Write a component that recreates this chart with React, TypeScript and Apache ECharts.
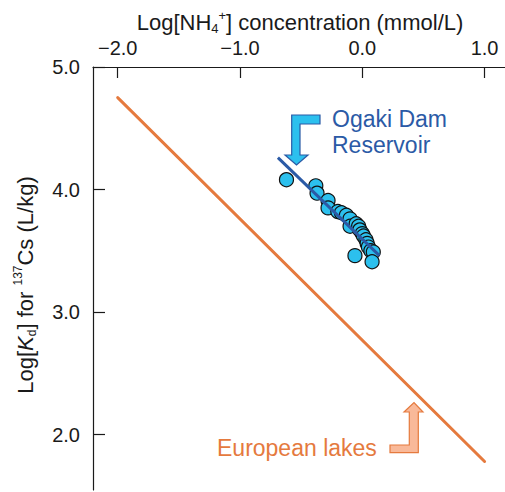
import React, { useEffect, useRef } from "react";
import * as echarts from "echarts";

const xTicks = [-2, -1, 0, 1];
const yTicks = [2, 3, 4, 5];

const ogakiX = [-0.62, -0.38, -0.37, -0.28, -0.28, -0.2, -0.17, -0.13, -0.1, -0.1, -0.05, -0.03, -0.02, 0.0, 0.01, 0.03, 0.04, 0.05, 0.07, 0.09, -0.06, 0.08];
const ogakiY = [4.08, 4.03, 3.97, 3.91, 3.85, 3.82, 3.81, 3.79, 3.76, 3.7, 3.72, 3.7, 3.67, 3.64, 3.62, 3.59, 3.56, 3.53, 3.5, 3.49, 3.46, 3.41];

const ogakiFitX = [-0.69, 0.14];
const ogakiFitY = [4.26, 3.46];
const europeFitX = [-2.0, 1.0];
const europeFitY = [4.75, 1.78];

const FONT = "'Liberation Sans', Arial, Helvetica, sans-serif";
const BLUE = "#2b5aa6";
const CYAN = "#2cc0ee";
const ORANGE = "#e57a3e";
const INK = "#1a1a1a";

const fmt = (v: number) => v.toFixed(1).replace("-", "\u2212");

export default function App() {
  const ref = useRef<HTMLDivElement>(null);
  useEffect(() => {
    if (!ref.current) return;
    const chart = echarts.init(ref.current, undefined, { renderer: "svg" });
    chart.setOption({
      animation: false,
      grid: { left: 93, top: 67, right: 0, bottom: 2, containLabel: false },
      xAxis: {
        type: "value",
        position: "top",
        min: -2.202,
        max: 1.167,
        splitLine: { show: false },
        axisLine: { show: true, onZero: false, lineStyle: { color: INK, width: 1.2 } },
        axisTick: { show: true, inside: true, length: 11, customValues: xTicks, lineStyle: { color: INK, width: 1.2 } },
        axisLabel: { customValues: xTicks, formatter: fmt, fontSize: 20, color: INK, fontFamily: FONT, margin: 9 },
      },
      yAxis: {
        type: "value",
        min: 1.547,
        max: 5,
        splitLine: { show: false },
        axisLine: { show: true, onZero: false, lineStyle: { color: INK, width: 1.2 } },
        axisTick: { show: true, inside: true, length: 12, customValues: yTicks, lineStyle: { color: INK, width: 1.2 } },
        axisLabel: { customValues: yTicks, formatter: fmt, fontSize: 20, color: INK, fontFamily: FONT, margin: 13 },
      },
      series: [
        {
          type: "line",
          data: europeFitX.map((x, i) => [x, europeFitY[i]]),
          symbol: "none",
          lineStyle: { color: ORANGE, width: 3, cap: "round" },
          z: 2,
        },
        {
          type: "scatter",
          data: ogakiX.map((x, i) => [x, ogakiY[i]]),
          symbol: "circle",
          symbolSize: 14,
          itemStyle: { color: CYAN, borderColor: "#111", borderWidth: 1.2, opacity: 1 },
          z: 3,
        },
        {
          type: "line",
          data: ogakiFitX.map((x, i) => [x, ogakiFitY[i]]),
          symbol: "none",
          lineStyle: { color: BLUE, width: 3 },
          z: 4,
        },
      ],
      graphic: [
        {
          type: "text",
          x: 300,
          y: 22,
          style: {
            text: "Log[NH{sub|4}{sup|+}] concentration (mmol/L)",
            fontSize: 22,
            fontFamily: FONT,
            fill: INK,
            align: "center",
            verticalAlign: "middle",
            lineHeight: 26,
            rich: {
              sub: { fontSize: 13, fontFamily: FONT, fill: INK, verticalAlign: "bottom", lineHeight: 12 },
              sup: { fontSize: 13, fontFamily: FONT, fill: INK, verticalAlign: "top", lineHeight: 12 },
            },
          },
        },
        {
          type: "text",
          x: 25,
          y: 285,
          rotation: Math.PI / 2,
          style: {
            text: "Log[{it|K}{sub|d}] for {sup|137}Cs (L/kg)",
            fontSize: 22,
            fontFamily: FONT,
            fill: INK,
            align: "center",
            verticalAlign: "middle",
            lineHeight: 26,
            rich: {
              it: { fontSize: 22, fontStyle: "italic", fontFamily: FONT, fill: INK, lineHeight: 26 },
              sub: { fontSize: 12, fontFamily: FONT, fill: INK, verticalAlign: "bottom", lineHeight: 12 },
              sup: { fontSize: 12, fontFamily: FONT, fill: INK, verticalAlign: "top", lineHeight: 12 },
            },
          },
        },
        {
          type: "text",
          x: 332,
          y: 132,
          style: {
            text: "Ogaki Dam\nReservoir",
            fontSize: 23,
            fontFamily: FONT,
            fill: BLUE,
            align: "left",
            verticalAlign: "middle",
            lineHeight: 26,
          },
        },
        {
          type: "text",
          x: 217,
          y: 448,
          style: {
            text: "European lakes",
            fontSize: 23,
            fontFamily: FONT,
            fill: ORANGE,
            align: "left",
            verticalAlign: "middle",
          },
        },
        {
          type: "polygon",
          shape: {
            points: [
              [291.7, 115], [320, 115], [320, 124], [300, 124], [300, 155],
              [308, 155], [296.5, 165], [285, 155], [291.7, 155],
            ],
          },
          style: { fill: CYAN, stroke: BLUE, lineWidth: 1.2 },
          z: 10,
        },
        {
          type: "polygon",
          shape: {
            points: [
              [390, 445], [409.3, 445], [409.3, 412], [404, 412], [414, 402.5],
              [423, 412], [418.3, 412], [418.3, 452.7], [390, 452.7],
            ],
          },
          style: { fill: "#f9b999", stroke: ORANGE, lineWidth: 1.2 },
          z: 10,
        },
      ],
    });
    return () => chart.dispose();
  }, []);
  return (
    <div
      ref={ref}
      style={{ position: "fixed", left: 0, top: 0, width: 505, height: 492, background: "#fff" }}
    />
  );
}
